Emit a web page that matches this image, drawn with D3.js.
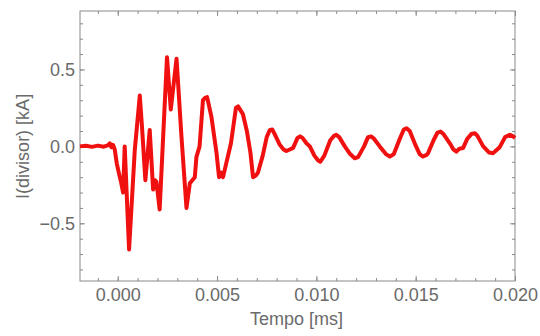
<!DOCTYPE html>
<html>
<head>
<meta charset="utf-8">
<script src="https://cdn.jsdelivr.net/npm/d3@7"></script>
<style>
  body { margin: 0; background: #fff; }
  text { font-family: "Liberation Sans", Arial, sans-serif; }
</style>
</head>
<body>
<svg></svg>
<script>
'use strict';
// time in ms, current in kA
var tempo = [-0.0019, -0.0016, -0.0013, -0.0010, -0.0007, -0.0005, -0.0004, -0.00032, -0.00024, -0.00015,
  -0.00005, 0.00007, 0.00018, 0.00027, 0.00035, 0.00057, 0.00086, 0.00111, 0.00122, 0.00139,
  0.00161, 0.00178, 0.00188, 0.00195, 0.00211, 0.00248, 0.00267, 0.00296, 0.00321, 0.00346,
  0.00363, 0.00388, 0.00396, 0.00412, 0.00429, 0.0044, 0.0045, 0.00472, 0.00497, 0.0051,
  0.0052, 0.0053, 0.0057, 0.00595, 0.00606, 0.0063, 0.0065, 0.00668, 0.00681, 0.00695,
  0.00706, 0.0073, 0.0075, 0.00765, 0.00778, 0.0079, 0.00816, 0.00835, 0.00849, 0.00866,
  0.00875, 0.00883, 0.00905, 0.00918, 0.0093, 0.0095, 0.00967, 0.0099, 0.01008, 0.0102,
  0.0104, 0.0107, 0.0109, 0.0110, 0.01115, 0.01143, 0.0117, 0.01193, 0.0121, 0.0124,
  0.0126, 0.01275, 0.0129, 0.01319, 0.0135, 0.0137, 0.0139, 0.0142, 0.0144, 0.01454,
  0.0147, 0.01495, 0.0152, 0.01537, 0.01555, 0.01562, 0.0159, 0.0161, 0.01625, 0.0164,
  0.01672, 0.0169, 0.01705, 0.0172, 0.01739, 0.0176, 0.0178, 0.01798, 0.0181, 0.0184,
  0.0187, 0.0189, 0.0191, 0.01923, 0.0195, 0.01974, 0.01991, 0.0200];
var corrente = [0.0, 0.004, -0.003, 0.005, -0.002, 0.006, 0.02, -0.005, 0.01, -0.02,
  -0.11, -0.18, -0.24, -0.30, 0.0, -0.67, -0.02, 0.33, 0.13, -0.22,
  0.107, -0.28, -0.22, -0.23, -0.41, 0.58, 0.24, 0.57, 0.06, -0.40,
  -0.24, -0.20, -0.07, 0.0, 0.30, 0.315, 0.32, 0.19, -0.04, -0.20,
  -0.17, -0.20, 0.02, 0.25, 0.26, 0.21, 0.10, -0.04, -0.20, -0.19,
  -0.17, -0.06, 0.06, 0.105, 0.11, 0.08, 0.01, -0.02, -0.03, -0.02,
  -0.015, -0.01, 0.055, 0.065, 0.055, 0.02, 0.0, -0.06, -0.09, -0.10,
  -0.06, 0.04, 0.07, 0.075, 0.06, 0.0, -0.05, -0.077, -0.07, 0.0,
  0.06, 0.065, 0.05, 0.0, -0.05, -0.066, -0.05, 0.05, 0.11, 0.118,
  0.10, 0.02, -0.05, -0.066, -0.055, -0.045, 0.04, 0.09, 0.096, 0.08,
  0.02, -0.02, -0.034, -0.015, -0.01, 0.05, 0.08, 0.085, 0.07, 0.0,
  -0.04, -0.044, -0.02, -0.005, 0.06, 0.075, 0.065, 0.055];

var xTicks = [0, 0.005, 0.01, 0.015, 0.02];
var yTicks = [-0.5, 0, 0.5];
var xMinor = d3.range(-1, 21).map(function(i) { return i * 0.001; });
var yMinor = d3.range(-8, 9).map(function(i) { return i * 0.1; });

var canvasWidth = 540;
var canvasHeight = 336;
var margin = { top: 11, right: 25, bottom: 55, left: 80 };
var width = canvasWidth - margin.left - margin.right;
var height = canvasHeight - margin.top - margin.bottom;

var svg = d3.select('svg')
  .attr('width', canvasWidth)
  .attr('height', canvasHeight);

var xScale = d3.scaleLinear().domain([-0.0019, 0.0200]).range([0, width]);
var yScale = d3.scaleLinear().domain([-0.875, 0.88]).range([height, 0]);

var g = svg.append('g')
  .attr('transform', 'translate(' + margin.left + ',' + margin.top + ')');

var frameColor = '#8a8a8a';
var labelColor = '#6a6a6a';

// frame axes, ticks pointing inward
function styleAxis(sel) {
  sel.select('.domain').remove();
  sel.selectAll('line').attr('stroke', frameColor);
  sel.selectAll('text').attr('fill', labelColor).style('font-size', '18px');
}

var fmt = d3.format('.3f');
g.append('g').attr('transform', 'translate(0,' + height + ')')
  .call(d3.axisBottom(xScale).tickValues(xTicks).tickFormat(fmt).tickSizeInner(-5).tickPadding(7))
  .call(styleAxis);
g.append('g').attr('transform', 'translate(0,' + height + ')')
  .call(d3.axisBottom(xScale).tickValues(xMinor.filter(function(v) { return v >= -0.0019; })).tickFormat('').tickSizeInner(-3).tickSizeOuter(0))
  .call(styleAxis);
g.append('g')
  .call(d3.axisTop(xScale).tickValues(xTicks).tickFormat('').tickSizeInner(-5).tickSizeOuter(0))
  .call(styleAxis);
g.append('g')
  .call(d3.axisTop(xScale).tickValues(xMinor.filter(function(v) { return v >= -0.0019; })).tickFormat('').tickSizeInner(-3).tickSizeOuter(0))
  .call(styleAxis);

var yfmt = function(d) { return d === 0 ? '0.0' : d3.format('.1f')(d).replace('-', '\u2212'); };
g.append('g')
  .call(d3.axisLeft(yScale).tickValues(yTicks).tickFormat(yfmt).tickSizeInner(-5).tickPadding(5))
  .call(styleAxis);
g.append('g')
  .call(d3.axisLeft(yScale).tickValues(yMinor).tickFormat('').tickSizeInner(-3).tickSizeOuter(0))
  .call(styleAxis);
g.append('g').attr('transform', 'translate(' + width + ',0)')
  .call(d3.axisRight(yScale).tickValues(yTicks).tickFormat('').tickSizeInner(-5).tickSizeOuter(0))
  .call(styleAxis);
g.append('g').attr('transform', 'translate(' + width + ',0)')
  .call(d3.axisRight(yScale).tickValues(yMinor).tickFormat('').tickSizeInner(-3).tickSizeOuter(0))
  .call(styleAxis);

// frame
g.append('rect')
  .attr('width', width)
  .attr('height', height)
  .attr('fill', 'none')
  .attr('stroke', frameColor)
  .attr('stroke-width', 1);

// signal
var line = d3.line()
  .x(function(d, i) { return xScale(tempo[i]); })
  .y(function(d) { return yScale(d); });

g.append('path')
  .datum(corrente)
  .attr('fill', 'none')
  .attr('stroke', '#f01010')
  .attr('stroke-width', 4)
  .attr('stroke-linejoin', 'round')
  .attr('d', line);

// axis titles
svg.append('text')
  .attr('x', margin.left + xScale(0.009))
  .attr('y', 325)
  .attr('text-anchor', 'middle')
  .attr('fill', labelColor)
  .style('font-size', '18px')
  .text('Tempo [ms]');

svg.append('text')
  .attr('transform', 'translate(29,' + (margin.top + yScale(0)) + ') rotate(-90)')
  .attr('text-anchor', 'middle')
  .attr('fill', labelColor)
  .style('font-size', '18px')
  .text('I(divisor) [kA]');
</script>
</body>
</html>
